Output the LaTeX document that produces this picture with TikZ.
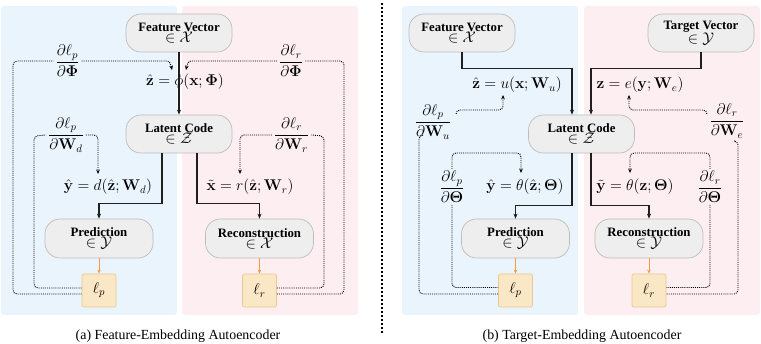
\RequirePackage{fix-cm}
\documentclass[tikz,border=0pt]{standalone}
\usepackage{amsmath}
\usepackage[no-math]{fontspec}
\setmainfont{Liberation Serif}
\usetikzlibrary{arrows.meta}
\definecolor{bgblue}{HTML}{EAF4FD}
\definecolor{bgpink}{HTML}{FDEEF1}
\definecolor{boxfill}{HTML}{EEEEEE}
\definecolor{boxline}{HTML}{BDBDBD}
\definecolor{lossfill}{HTML}{F9E7C6}
\definecolor{lossline}{HTML}{EBC88F}
\definecolor{lossarrow}{HTML}{F39B45}
\newcommand\mymfont{\fontsize{15.5}{18}\selectfont}
\newcommand\mytfont{\fontsize{12.8}{15}\selectfont\bfseries}
\newcommand\mycapfont{\fontsize{13.9}{16}\selectfont}
\newcommand\pilltext[2]{{\mytfont #1}\\[-1pt]{\mymfont$\in #2$}}
\begin{document}
\begin{tikzpicture}[x=1pt,y=-1pt,
  pill/.style={draw=boxline, fill=boxfill, line width=0.7pt, rounded corners=15pt,
    minimum width=106pt, minimum height=38pt, inner sep=0pt, align=center},
  lossbox/.style={draw=lossline, fill=lossfill, line width=0.7pt, rounded corners=2pt,
    minimum width=34pt, minimum height=33pt, inner sep=0pt, font=\mymfont},
  mlabel/.style={inner sep=0pt, font=\mymfont},
  flabel/.style={inner sep=2pt, font=\mymfont},
  flow/.style={line width=1.2pt, draw=black!88, -{Stealth[length=5pt,width=4pt]}},
  grad/.style={line width=0.9pt, dash pattern=on 1pt off 1.1pt, rounded corners=4pt},
  gradarr/.style={grad, -{Stealth[length=4.5pt,width=3.8pt]}},
  lossarr/.style={line width=0.9pt, draw=lossarrow, -{Stealth[length=4pt,width=3.5pt]}},
  capt/.style={inner sep=0pt, font=\mycapfont}
]
\useasboundingbox (0,0) rectangle (761,344);
% backgrounds
\fill[bgblue, rounded corners=3pt] (1,6) rectangle (177,315);
\fill[bgpink, rounded corners=3pt] (182,6) rectangle (358,315);
\fill[bgblue, rounded corners=3pt] (402,6) rectangle (578,315);
\fill[bgpink, rounded corners=3pt] (584,6) rectangle (760,315);
% separator
\draw[line width=1.1pt, dash pattern=on 2pt off 2pt] (382,3) -- (382,334);

% ---------- panel (a) ----------
\node[pill] (fvA) at (179,33) {\pilltext{Feature Vector}{\mathcal{X}}};
\node[pill] (lcA) at (179,134) {\pilltext{Latent Code}{\mathcal{Z}}};
\node[pill, minimum width=108pt, minimum height=39pt] (predA) at (99,238.5) {\pilltext{Prediction}{\mathcal{Y}}};
\node[pill, minimum width=108pt, minimum height=39pt] (recA) at (259.5,238.5) {\pilltext{Reconstruction}{\mathcal{X}}};
\node[lossbox] (lpA) at (99,290.5) {$\ell_p$};
\node[lossbox] (lrA) at (259.5,290.5) {$\ell_r$};

\node[mlabel] (zA) at (185,82) {$\hat{\mathbf{z}} = \phi(\mathbf{x};\mathbf{\Phi})$};
\node[mlabel] (yA) at (108,187) {$\hat{\mathbf{y}} = d(\hat{\mathbf{z}};\mathbf{W}_d)$};
\node[mlabel] (xA) at (250,187) {$\tilde{\mathbf{x}} = r(\hat{\mathbf{z}};\mathbf{W}_r)$};

\node[flabel] (dPhiA) at (67.5,61) {$\dfrac{\partial \ell_p}{\partial \mathbf{\Phi}}$};
\node[flabel] (dPhiR) at (291,61) {$\dfrac{\partial \ell_r}{\partial \mathbf{\Phi}}$};
\node[flabel] (dWdA) at (66,135) {$\dfrac{\partial \ell_p}{\partial \mathbf{W}_d}$};
\node[flabel] (dWrA) at (291.5,135) {$\dfrac{\partial \ell_r}{\partial \mathbf{W}_r}$};

\coordinate (tPhiA) at (172,70);
\coordinate (tPhiR) at (186,70);
\coordinate (tWd) at (98,174);
\coordinate (tWr) at (240,174);

\draw[flow] (fvA) -- (lcA);
\draw[flow] ([xshift=-17pt]lcA.south) -- ++(0,50) -| (predA.north);
\draw[flow] ([xshift=18pt]lcA.south) -- ++(0,50) -| (recA.north);
\draw[lossarr] (predA) -- (lpA);
\draw[lossarr] (recA) -- (lrA);

\draw[grad] ([yshift=-3.5pt]lpA.west) -| (13,61) -- (dPhiA.west);
\draw[gradarr] (dPhiA.east) -- (163,61) .. controls (170,61) and (171,65) .. (tPhiA);
\draw[grad] ([yshift=-3.5pt]lrA.east) -| (344,61) -- (dPhiR.east);
\draw[gradarr] (dPhiR.west) -- (195,61) .. controls (188,61) and (187,65) .. (tPhiR);
\draw[grad] ([yshift=2.5pt]lpA.west) -| (34,136) -- (dWdA.west);
\draw[gradarr] (dWdA.east) -| (tWd);
\draw[grad] ([yshift=2.5pt]lrA.east) -| (324,136) -- (dWrA.east);
\draw[gradarr] (dWrA.west) -| (tWr);

\node[capt] (capA) at (178,336) {(a) Feature-Embedding Autoencoder};

% ---------- panel (b) ----------
\node[pill] (fvB) at (462,33) {\pilltext{Feature Vector}{\mathcal{X}}};
\node[pill] (tvB) at (701,33) {\pilltext{Target Vector}{\mathcal{Y}}};
\node[pill] (lcB) at (581.5,134) {\pilltext{Latent Code}{\mathcal{Z}}};
\node[pill, minimum width=108pt, minimum height=39pt] (predB) at (515.5,238.5) {\pilltext{Prediction}{\mathcal{Y}}};
\node[pill, minimum width=108pt, minimum height=39pt] (recB) at (649,238.5) {\pilltext{Reconstruction}{\mathcal{Y}}};
\node[lossbox] (lpB) at (515.5,290.5) {$\ell_p$};
\node[lossbox] (lrB) at (649,290.5) {$\ell_r$};

\node[mlabel] (zB) at (517,85) {$\hat{\mathbf{z}} = u(\mathbf{x};\mathbf{W}_u)$};
\node[mlabel] (eB) at (640,85) {$\mathbf{z} = e(\mathbf{y};\mathbf{W}_e)$};
\node[mlabel] (yB) at (525,187) {$\hat{\mathbf{y}} = \theta(\hat{\mathbf{z}};\mathbf{\Theta})$};
\node[mlabel] (ytB) at (635,187) {$\tilde{\mathbf{y}} = \theta(\mathbf{z};\mathbf{\Theta})$};

\node[flabel] (dWu) at (433,122) {$\dfrac{\partial \ell_p}{\partial \mathbf{W}_u}$};
\node[flabel] (dThP) at (452,187) {$\dfrac{\partial \ell_p}{\partial \mathbf{\Theta}}$};
\node[flabel] (dWe) at (727,121) {$\dfrac{\partial \ell_r}{\partial \mathbf{W}_e}$};
\node[flabel] (dThR) at (710,187) {$\dfrac{\partial \ell_r}{\partial \mathbf{\Theta}}$};

\coordinate (tWu) at (503,95);
\coordinate (tWe) at (629,95);
\coordinate (tThP) at (521,173);
\coordinate (tThR) at (630,173);

\draw[flow] (fvB.south) -- ++(0,16) -| ([xshift=-9.5pt]lcB.north);
\draw[flow] (tvB.south) -- ++(0,16) -| ([xshift=9.5pt]lcB.north);
\draw[flow] ([xshift=-9.5pt]lcB.south) -- ++(0,52) -| (predB.north);
\draw[flow] ([xshift=9.5pt]lcB.south) -- ++(0,52) -| (recB.north);
\draw[lossarr] (predB) -- (lpB);
\draw[lossarr] (recB) -- (lrB);

\draw[grad] (423,135) -| (419,160) |- ([yshift=-3.5pt]lpB.west);
\draw[gradarr] (456,114) |- (503,110) -- (tWu);
\draw[grad] (dThP.south) |- ([yshift=3pt]lpB.west);
\draw[gradarr] (dThP.north) |- (521,153) -- (tThP);
\draw[grad] (735,141) -| (738,160) |- ([yshift=-3.5pt]lrB.east);
\draw[gradarr] (707,114) |- (629,110) -- (tWe);
\draw[grad] (dThR.south) |- ([yshift=3pt]lrB.east);
\draw[gradarr] (dThR.north) |- (630,153) -- (tThR);

\node[capt] (capB) at (582,336) {(b) Target-Embedding Autoencoder};
\end{tikzpicture}
\end{document}
